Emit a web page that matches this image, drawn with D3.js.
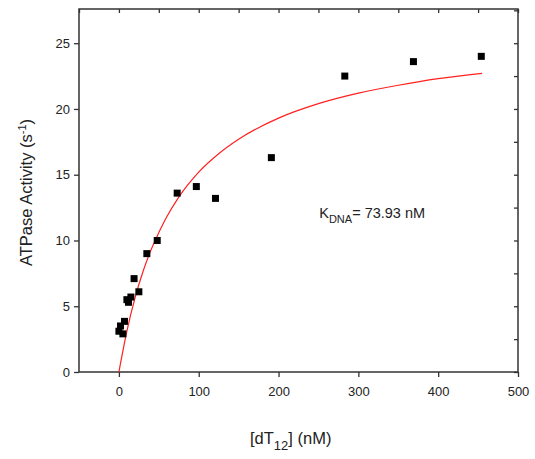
<!DOCTYPE html>
<html>
<head>
<meta charset="utf-8">
<script src="https://cdn.jsdelivr.net/npm/d3@7"></script>
<style>
  body { margin: 0; background: #fff; }
  text { font-family: Arial, "Liberation Sans", sans-serif; }
</style>
</head>
<body>
<svg width="535" height="459"></svg>
<script>
// measured points (nM, s^-1)
var concNM = [0, 2, 5, 7, 10, 12, 15, 19, 25, 35, 48, 73, 97, 121, 191, 283, 369, 454];
var activity = [3.1, 3.5, 2.9, 3.85, 5.5, 5.3, 5.7, 7.1, 6.1, 9.0, 10.0, 13.6, 14.1, 13.2, 16.3, 22.5, 23.6, 24.0];

// fitted curve
var fitX = [0, 10, 20, 30, 40, 50, 60, 75, 100, 125, 150, 200, 250, 300, 350, 400, 455];
var fitY = [0, 3.1, 5.6, 7.6, 9.25, 10.6, 11.8, 13.3, 15.2, 16.6, 17.7, 19.3, 20.4, 21.2, 21.8, 22.3, 22.7];

var xTicks = [0, 100, 200, 300, 400, 500];
var yTicks = [0, 5, 10, 15, 20, 25];

var svg = d3.select("svg"),
  margin = { left: 79, right: 17, top: 9, bottom: 87 },
  width = +svg.attr("width") - margin.left - margin.right,
  height = +svg.attr("height") - margin.top - margin.bottom;

var g = svg.append("g").attr("transform", "translate(" + margin.left + "," + margin.top + ")");

var x = d3.scaleLinear().domain([-50, 500]).range([0, width]);
var y = d3.scaleLinear().domain([0, 27.6]).range([height, 0]);

var minorX = d3.range(-50, 501, 50);
var minorY = d3.range(0, 27.6, 2.5);

// frame
g.append("rect")
  .attr("width", width).attr("height", height)
  .attr("fill", "none").attr("stroke", "#333").attr("stroke-width", 1.5);

// bottom axis
var bottom = g.append("g").attr("transform", "translate(0," + height + ")");
bottom.call(d3.axisBottom(x).tickValues(minorX).tickSize(3).tickFormat(""));
bottom.call(d3.axisBottom(x).tickValues(xTicks).tickSize(5).tickPadding(10).tickFormat(d3.format("d")));

// left axis
var left = g.append("g");
left.call(d3.axisLeft(y).tickValues(minorY).tickSize(3).tickFormat(""));
left.call(d3.axisLeft(y).tickValues(yTicks).tickSize(5).tickPadding(4).tickFormat(d3.format("d")));

// mirror ticks (inward)
g.append("g").call(d3.axisBottom(x).tickValues(minorX).tickSize(4).tickFormat(""));
g.append("g").attr("transform", "translate(" + width + ",0)")
  .call(d3.axisRight(y).tickValues(minorY).tickSize(-4).tickFormat(""));

g.selectAll(".domain").remove();
g.selectAll(".tick line").attr("stroke", "#333").attr("stroke-width", 1.3);
g.selectAll(".tick text").attr("font-size", 13).attr("fill", "#222");

// fit curve
var line = d3.line()
  .x(function (d, i) { return x(fitX[i]); })
  .y(function (d) { return y(d); })
  .curve(d3.curveMonotoneX);

g.append("path")
  .datum(fitY)
  .attr("d", line)
  .attr("fill", "none")
  .attr("stroke", "#ff2020")
  .attr("stroke-width", 1.2);

// data squares
var s = 7;
g.selectAll("rect.pt").data(activity)
  .enter().append("rect")
  .attr("class", "pt")
  .attr("x", function (d, i) { return x(concNM[i]) - s / 2; })
  .attr("y", function (d) { return y(d) - s / 2; })
  .attr("width", s).attr("height", s)
  .attr("fill", "#000");

// annotation
var ann = g.append("text")
  .attr("x", x(251)).attr("y", y(11.7))
  .attr("font-size", 14.5).attr("fill", "#222");
ann.append("tspan").text("K");
ann.append("tspan").attr("dy", 5).attr("font-size", 11).text("DNA");
ann.append("tspan").attr("dy", -5).text("= 73.93 nM");

// axis titles
var xt = svg.append("text")
  .attr("x", 250).attr("y", 444)
  .attr("font-size", 16.5).attr("fill", "#222");
xt.append("tspan").text("[dT");
xt.append("tspan").attr("dy", 6).attr("font-size", 13).text("12");
xt.append("tspan").attr("dy", -6).text("] (nM)");

var yt = svg.append("text")
  .attr("transform", "translate(32," + (margin.top + height / 2 + 2) + ") rotate(-90)")
  .attr("text-anchor", "middle")
  .attr("font-size", 16.5).attr("fill", "#222");
yt.append("tspan").text("ATPase Activity (s");
yt.append("tspan").attr("dy", -6).attr("font-size", 11).text("-1");
yt.append("tspan").attr("dy", 6).text(")");
</script>
</body>
</html>
